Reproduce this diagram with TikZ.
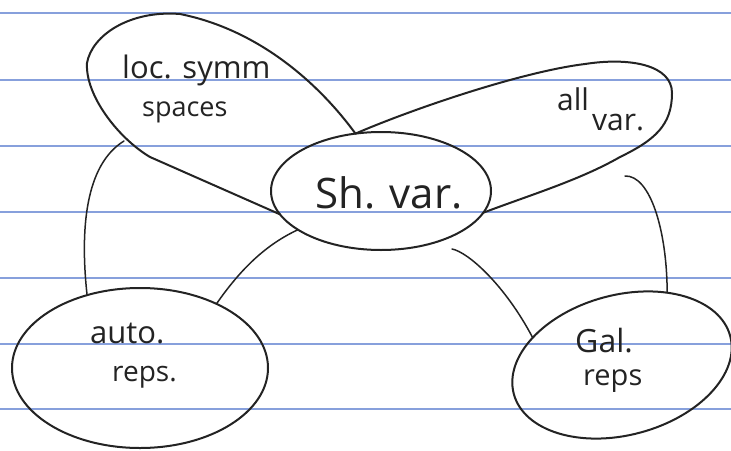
\documentclass[tikz,border=0pt]{standalone}
\usepackage{fontspec}
\setmainfont{Open Sans}
\usetikzlibrary{shapes.geometric}
\definecolor{ruleblue}{RGB}{135,160,220}
\definecolor{ink}{RGB}{35,35,35}
\begin{document}
\begin{tikzpicture}[x=1pt,y=-1pt,
  ruleline/.style={draw=ruleblue,line width=1.1pt},
  blob/.style={draw=ink,line width=2pt,line join=round,line cap=round},
  wire/.style={draw=ink,line width=1.5pt,line cap=round},
  oval/.style={ellipse,blob,inner sep=0pt,outer sep=0pt},
  lbl/.style={text=ink,inner sep=0pt,anchor=base west,font=\fontsize{30}{34}\selectfont},
]
\fill[white] (0,0) rectangle (731,450);
\useasboundingbox (0,0) rectangle (731,450);
\foreach \yy in {13,80,146,212,278,344,409} \draw[ruleline] (0,\yy) -- (731,\yy);

% main ovals
\node[oval,minimum width=220pt,minimum height=118pt] (sh) at (381,191) {};
\node[oval,minimum width=256pt,minimum height=160pt] (auto) at (140,368) {};
\node[oval,minimum width=224pt,minimum height=140pt,rotate=15] (gal) at (622,365) {};

% teardrop: loc. symm spaces
\draw[blob] (sh.114) .. controls (320,85) and (260,30) .. (180,14)
  .. controls (130,10) and (92,35) .. (87,63)
  .. controls (85,95) and (118,138) .. (150,157) -- (sh.193);
% teardrop: all var.
\draw[blob] (sh.114) .. controls (410,110) and (520,72) .. (585,64)
  .. controls (630,57) and (672,65) .. (672,93)
  .. controls (672,125) and (655,140) .. (620,157)
  .. controls (580,180) and (530,195) .. (sh.-12);

% connector end points near the teardrops
\coordinate (lsA) at (124,141);
\coordinate (avA) at (625,176);
\coordinate (shB) at (452,249);

% connectors
\draw[wire] (auto.126) .. controls (80,230) and (85,165) .. (lsA);
\draw[wire] (auto.40) .. controls (240,270) and (265,245) .. (sh.205);
\draw[wire] (shB) .. controls (468,252) and (505,285) .. (gal.148);
\draw[wire] (avA) .. controls (650,175) and (667,230) .. (gal.43);

% labels
\node[lbl,font=\fontsize{31}{34}\selectfont] (t1) at (122,78) {loc. symm};
\node[lbl,font=\fontsize{27}{30}\selectfont] (t2) at (142,116) {spaces};
\node[lbl] (t3) at (557,110) {all};
\node[lbl] (t4) at (592,130) {var.};
\node[lbl,font=\fontsize{42}{46}\selectfont] (t5) at (315,208) {Sh. var.};
\node[lbl,font=\fontsize{31}{34}\selectfont] (t6) at (90,343) {auto.};
\node[lbl,font=\fontsize{28}{32}\selectfont] (t7) at (112,381) {reps.};
\node[lbl,font=\fontsize{32}{36}\selectfont] (t8) at (575,352) {Gal.};
\node[lbl,font=\fontsize{29}{32}\selectfont] (t9) at (583,385) {reps};
\end{tikzpicture}
\end{document}
